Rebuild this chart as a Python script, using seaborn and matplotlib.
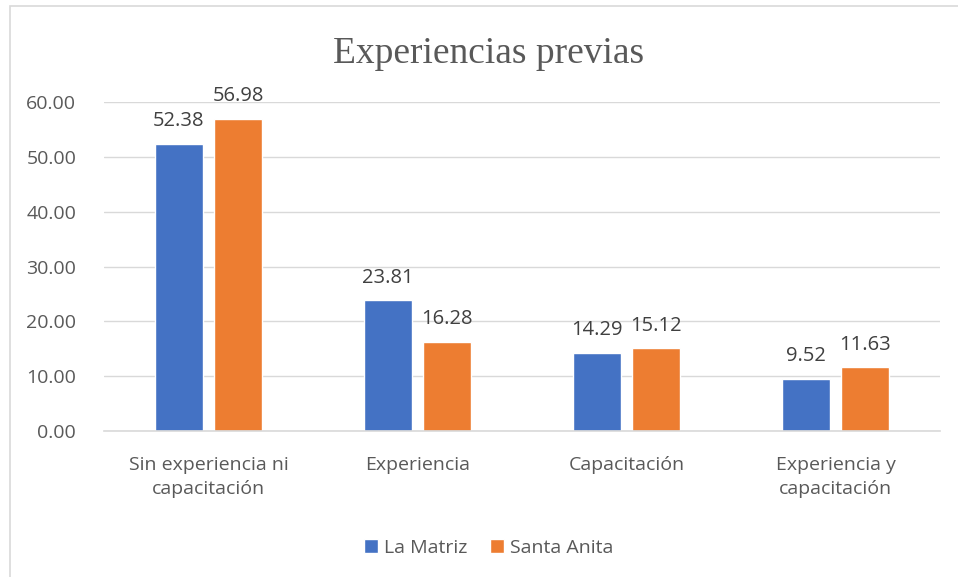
import pandas as pd
import matplotlib.pyplot as plt
import seaborn as sns
from matplotlib.patches import Rectangle

categorias = ["Sin experiencia ni\ncapacitación", "Experiencia", "Capacitación", "Experiencia y\ncapacitación"]
la_matriz = [52.38, 23.81, 14.29, 9.52]
santa_anita = [56.98, 16.28, 15.12, 11.63]
grupos = ["La Matriz", "Santa Anita"]
colores = ["#4472C4", "#ED7D31"]
gris = "#595959"

df = pd.DataFrame({
    "categoria": categorias * 2,
    "valor": la_matriz + santa_anita,
    "grupo": [grupos[0]] * 4 + [grupos[1]] * 4,
})

sns.set_theme(style="white")
plt.rcParams['font.family'] = ['Open Sans', 'DejaVu Sans']

fig = plt.figure(figsize=(9.58, 5.77), dpi=100)
ax = fig.add_axes([104 / 958, 1 - 431 / 577, 836 / 958, 329 / 577])

sns.barplot(data=df, x="categoria", y="valor", hue="grupo", palette=colores,
            width=0.57, gap=0.2, ax=ax, legend=True, saturation=1)

ax.set_ylim(0, 60)
ax.set_yticks(range(0, 61, 10))
ax.set_yticklabels([f"{v:.2f}" for v in range(0, 61, 10)], color=gris, fontsize=14)
ax.tick_params(axis="x", colors=gris, labelsize=14, length=0, pad=18)
ax.tick_params(axis="y", length=0, pad=20)
ax.set_xlabel("")
ax.set_ylabel("")
ax.yaxis.grid(True, color="#D9D9D9", linewidth=1)
ax.set_axisbelow(True)
for s in ["top", "right", "left"]:
    ax.spines[s].set_visible(False)
ax.spines["bottom"].set_color("#D9D9D9")
ax.spines["bottom"].set_linewidth(1.2)
for lbl in ax.get_xticklabels():
    lbl.set_color(gris)
    lbl.set_linespacing(1.45)

for cont in ax.containers:
    ax.bar_label(cont, fmt="%.2f", padding=9, color="#404040", fontsize=14.5)

ax.set_title("Experiencias previas", family="Liberation Serif", fontsize=27,
             color=gris, pad=28, x=0.46)

ax.legend(loc="upper center", bbox_to_anchor=(0.46, -0.275), ncol=2, frameon=False,
          fontsize=14, handlelength=0.7, handleheight=0.7, handletextpad=0.3,
          columnspacing=1.2, labelcolor=gris)

fig.patches.append(Rectangle((10 / 958, -0.1), 1.2, 1 - 6 / 577 + 0.1,
                             transform=fig.transFigure, fill=False,
                             edgecolor="#D9D9D9", linewidth=1.2))

fig.savefig("out.png", dpi=100, facecolor="white")
